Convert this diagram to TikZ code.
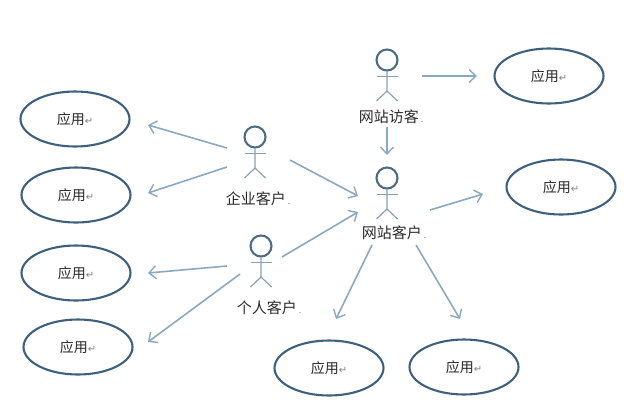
\documentclass[tikz,border=0pt]{standalone}
\usepackage{fontspec}
\setmainfont{Noto Sans CJK SC}
\newfontfamily\symf{DejaVu Sans}
\usetikzlibrary{arrows.meta,calc,shapes.geometric}
\definecolor{ringc}{HTML}{3E607C}
\definecolor{arrc}{HTML}{8CA8C0}
\definecolor{headc}{HTML}{4C6C82}
\definecolor{limbc}{HTML}{8A9FB0}
\definecolor{txtc}{HTML}{2A2A2A}
\tikzset{
  usecase/.style={draw=ringc,line width=2.1pt,ellipse,minimum width=109pt,minimum height=55pt,inner sep=0pt,
    text=txtc,font=\fontsize{14}{15}\selectfont},
  head/.style={draw=headc,line width=2.1pt,circle,minimum size=21pt,inner sep=0pt},
  limb/.style={draw=limbc,line width=1.2pt},
  actorlabel/.style={text=txtc,inner sep=0pt,font=\fontsize{15}{16}\selectfont},
  flow/.style={draw=arrc,line width=1.6pt,-{Straight Barb[length=7pt,width=13pt,line width=1.4pt]}}
}
\newcommand{\uctext}{应用{\symf\fontsize{10}{10}\selectfont\textcolor{gray}{↵}}}
\newcommand{\dotm}{\hspace{2pt}{\fontsize{9}{9}\selectfont\textcolor{gray}{.}}}
% name, head x, head y, label dx, label dy, text
\newcommand{\actorfig}[6]{%
  \node[head] (#1) at (#2,#3) {};
  \coordinate (#1arml) at ($(#1)+(-10.5,16.5)$);
  \coordinate (#1armr) at ($(#1)+(10.5,16.5)$);
  \coordinate (#1hip) at ($(#1)+(0,31)$);
  \coordinate (#1legl) at ($(#1)+(-10.5,41)$);
  \coordinate (#1legr) at ($(#1)+(10.5,41)$);
  \draw[limb] (#1.south) -- (#1hip) -- (#1legl);
  \draw[limb] (#1hip) -- (#1legr);
  \draw[limb] (#1arml) -- (#1armr);
  \node[actorlabel] (#1text) at ($(#1)+(#4,#5)$) {#6\dotm};
}
\begin{document}
\begin{tikzpicture}[x=1pt,y=-1pt]
\useasboundingbox (0,0) rectangle (628,413);
\node[usecase] (e1) at (75,119) {\uctext};
\node[usecase] (e2) at (76,195) {\uctext};
\node[usecase] (e3) at (76,273) {\uctext};
\node[usecase] (e4) at (78,347) {\uctext};
\node[usecase] (e5) at (329,368) {\uctext};
\node[usecase] (e6) at (464,367) {\uctext};
\node[usecase] (e7) at (549,76) {\uctext};
\node[usecase] (e8) at (561,187) {\uctext};
\actorfig{ent}{255}{137}{3}{62}{企业客户}
\actorfig{per}{261}{246}{8}{62}{个人客户}
\actorfig{vis}{387}{60}{4}{57}{网站访客}
\actorfig{cus}{387}{178}{7}{55}{网站客户}
\draw[flow] ($(ent)+(-28,11)$) -- ($(e1)+(73,6)$);
\draw[flow] ($(ent)+(-28,30)$) -- ($(e2)+(72,-2)$);
\draw[flow] ($(ent)+(35,23)$) -- ($(cus)+(-29,18)$);
\draw[flow] ($(per)+(-34,20)$) -- ($(e3)+(72,0)$);
\draw[flow] ($(per)+(-21,28)$) -- ($(e4)+(70,-5)$);
\draw[flow] ($(per)+(21,11)$) -- ($(cus)+(-29,34)$);
\draw[flow] ($(vis)+(35,16)$) -- ($(e7)+(-72,0)$);
\draw[flow] (vistext.south -| vis) ++(0,3) -- ($(cus)+(0,-23)$);
\draw[flow] ($(cus)+(43,32)$) -- ($(e8)+(-78,7)$);
\draw[flow] ($(cus)+(-15,67)$) -- ($(e5)+(7,-49)$);
\draw[flow] ($(cus)+(29,67)$) -- ($(e6)+(-4,-48)$);
\end{tikzpicture}
\end{document}
